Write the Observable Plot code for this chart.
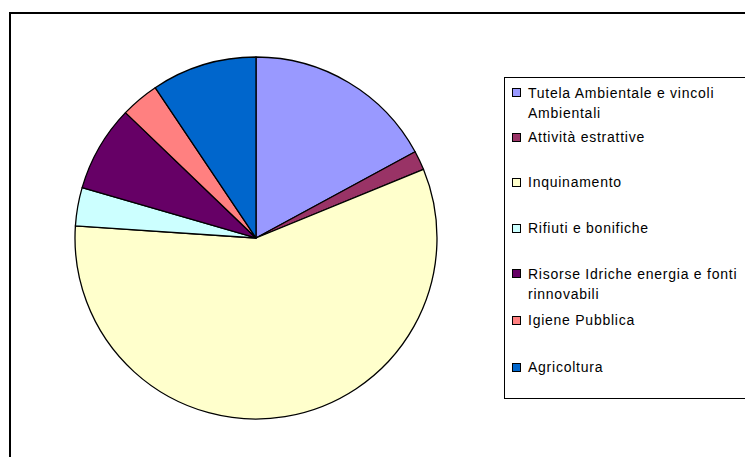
<!DOCTYPE html>
<html>
<head>
<meta charset="utf-8">
<script src="https://cdn.jsdelivr.net/npm/d3@7"></script>
<script src="https://cdn.jsdelivr.net/npm/@observablehq/plot@0.6"></script>
<style>
  html, body { margin: 0; padding: 0; background: #fff; }
  #wrap { position: relative; width: 745px; height: 457px; overflow: hidden; background: #fff; }
  #frame { position: absolute; left: 9px; top: 12px; width: 800px; height: 500px; border: 2px solid #000; box-sizing: border-box; }
  #chart { position: absolute; left: 0; top: 0; }
  #legend { position: absolute; left: 504px; top: 77px; width: 280px; height: 322px; border: 1px solid #000; box-sizing: border-box; background: #fff;
            font-family: "Liberation Sans", Arial, sans-serif; font-size: 14px; letter-spacing: 0.75px; color: #000; }
  .item { position: absolute; left: 6px; line-height: 20px; padding-left: 17px; }
  .sw { position: absolute; left: 1px; top: 5.4px; width: 7px; height: 7px; border: 1px solid #000; }
</style>
</head>
<body>
<div id="wrap">
  <div id="frame"></div>
  <div id="chart"></div>
  <div id="legend"></div>
</div>
<script>
// ---- data ----
const categories = [
  "Tutela Ambientale e vincoli Ambientali",
  "Attività estrattive",
  "Inquinamento",
  "Rifiuti e bonifiche",
  "Risorse Idriche energia e fonti rinnovabili",
  "Igiene Pubblica",
  "Agricoltura"
];
const values = [20, 2, 67, 4, 9, 4, 11];
const colors = ["#9999FF", "#993366", "#FFFFCC", "#CCFFFF", "#660066", "#FF8080", "#0066CC"];

// ---- layout ----
const W = 745, H = 457;
const cx = 256, cy = 238, R = 181;
const legendCapMid = [92.5, 137, 182, 228, 273.5, 320, 367];
const legendTextWidth = 218;

const table = categories.map((c, i) => ({category: c, value: values[i]}));
const arcs = d3.pie().value(d => d.value).sort(null)(table);

const pieMark = (index, scales, channels, dimensions, context) => {
  const x0 = scales.x(0), y0 = scales.y(0);
  const r = Math.abs(scales.x(1) - scales.x(0));
  const arc = d3.arc().innerRadius(0).outerRadius(r);
  const g = d3.create("svg:g").attr("transform", `translate(${x0},${y0})`);
  g.selectAll("path").data(arcs).join("path")
    .attr("d", arc)
    .attr("fill", d => scales.color(d.data.category))
    .attr("stroke", "#000")
    .attr("stroke-width", 1.3)
    .attr("stroke-linejoin", "round");
  return g.node();
};

const plot = Plot.plot({
  width: W, height: H,
  margin: 0,
  style: {background: "transparent"},
  x: {domain: [-1, 1], range: [cx - R, cx + R], axis: null},
  y: {domain: [-1, 1], range: [cy + R, cy - R], axis: null},
  color: {domain: categories, range: colors},
  marks: [pieMark]
});
document.getElementById("chart").appendChild(plot);

const legend = d3.select("#legend");
categories.forEach((c, i) => {
  const it = legend.append("div").attr("class", "item")
    .style("top", (legendCapMid[i] - 9.84 - 78) + "px")
    .style("width", legendTextWidth + "px");
  it.append("div").attr("class", "sw").style("background", colors[i]);
  it.append("span").text(c);
});
</script>
</body>
</html>
